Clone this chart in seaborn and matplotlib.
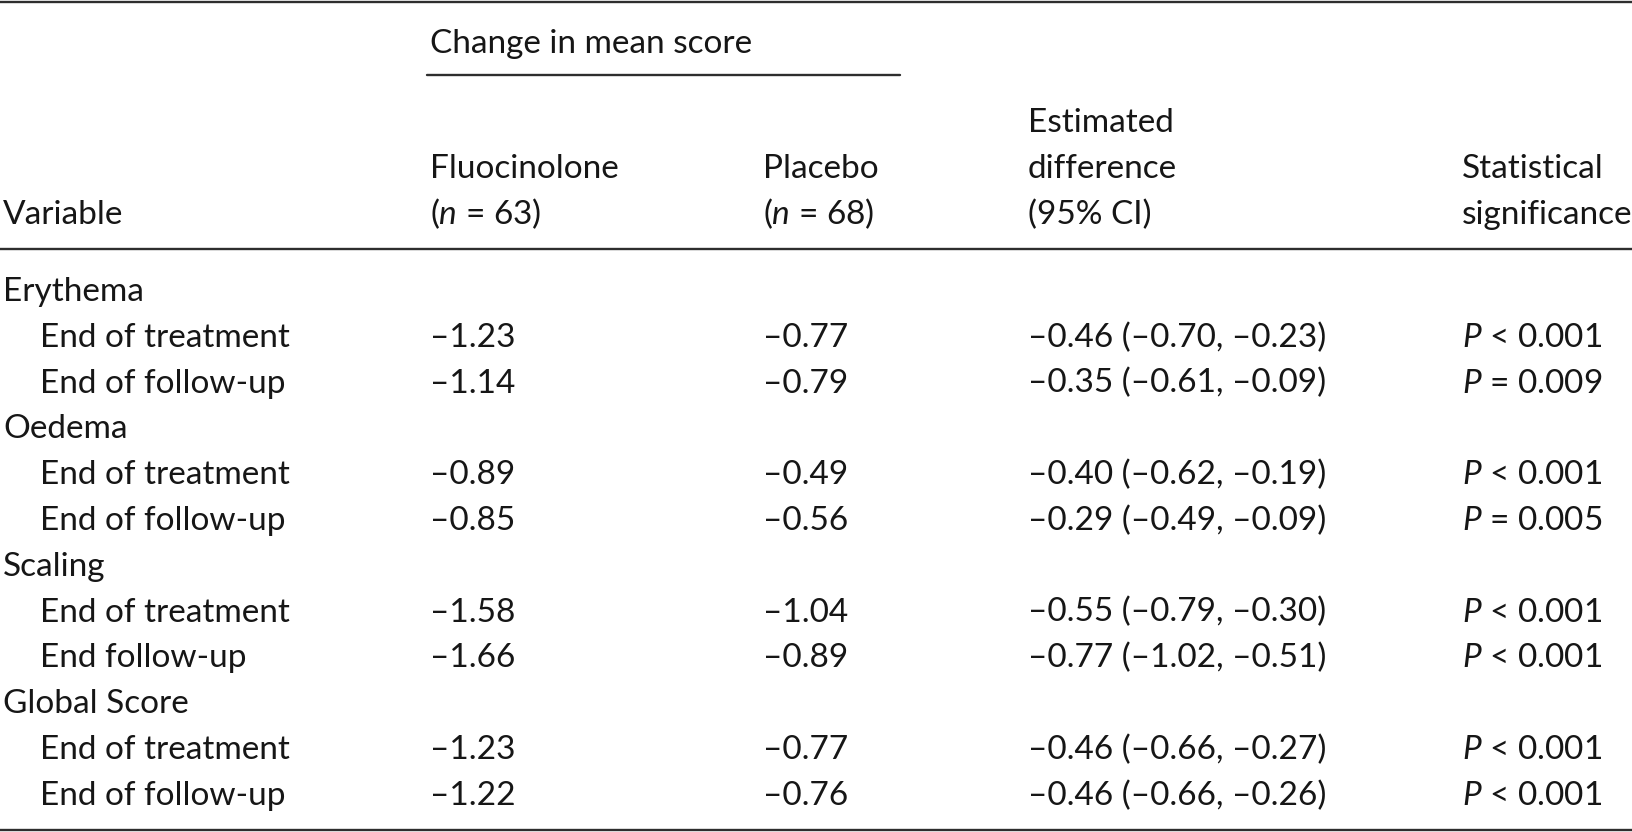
import matplotlib.pyplot as plt
import seaborn as sns

# table contents
groups = ['Erythema', 'Oedema', 'Scaling', 'Global Score']
timepoints = [['End of treatment', 'End of follow-up'],
              ['End of treatment', 'End of follow-up'],
              ['End of treatment', 'End follow-up'],
              ['End of treatment', 'End of follow-up']]
fluocinolone = [-1.23, -1.14, -0.89, -0.85, -1.58, -1.66, -1.23, -1.22]
placebo = [-0.77, -0.79, -0.49, -0.56, -1.04, -0.89, -0.77, -0.76]
est_diff = [-0.46, -0.35, -0.40, -0.29, -0.55, -0.77, -0.46, -0.46]
ci_low = [-0.70, -0.61, -0.62, -0.49, -0.79, -1.02, -0.66, -0.66]
ci_high = [-0.23, -0.09, -0.19, -0.09, -0.30, -0.51, -0.27, -0.26]
p_sign = ['<', '=', '<', '=', '<', '<', '<', '<']
p_value = ['0.001', '0.009', '0.001', '0.005', '0.001', '0.001', '0.001', '0.001']

sns.set_theme(style='white')
plt.rcParams['font.family'] = ['Lato', 'DejaVu Sans']
plt.rcParams['mathtext.fontset'] = 'custom'
plt.rcParams['mathtext.rm'] = 'Lato'
plt.rcParams['mathtext.it'] = 'Lato:italic'

W, H = 1632, 832
fig = plt.figure(figsize=(W / 100, H / 100), dpi=100)
ax = fig.add_axes([0, 0, 1, 1])
ax.set_xlim(0, W)
ax.set_ylim(H, 0)
ax.axis('off')

fs = 24
col = '#161616'
line_col = '#2e2e2e'
x_var, x_ind, x_fl, x_pl, x_est, x_sig = 3, 40, 430, 763, 1028, 1462


def neg(v):
    return '\u2013' + f'{abs(v):.2f}'


def put(x, y, s):
    ax.text(x, y, s, fontsize=fs, color=col, va='baseline', ha='left')


# rules
ax.plot([0, W], [2, 2], color=line_col, lw=1.7)
ax.plot([427, 900], [75, 75], color=line_col, lw=1.7)
ax.plot([0, W], [249, 249], color=line_col, lw=1.7)
ax.plot([0, W], [830, 830], color=line_col, lw=1.7)

# header
put(x_fl, 53, 'Change in mean score')
put(x_est, 132, 'Estimated')
put(x_fl, 178, 'Fluocinolone')
put(x_pl, 178, 'Placebo')
put(x_est, 178, 'difference')
put(x_sig, 178, 'Statistical')
put(x_var, 224, 'Variable')
put(x_fl, 224, '($n$ = 63)')
put(x_pl, 224, '($n$ = 68)')
put(x_est, 224, '(95% CI)')
put(x_sig, 224, 'significance')

# body
y0, dy, base = 290, 45.8, 11
row = 0
k = 0
for g, tps in zip(groups, timepoints):
    put(x_var, y0 + row * dy + base, g)
    row += 1
    for tp in tps:
        y = y0 + row * dy + base
        put(x_ind, y, tp)
        put(x_fl, y, neg(fluocinolone[k]))
        put(x_pl, y, neg(placebo[k]))
        put(x_est, y, f'{neg(est_diff[k])} ({neg(ci_low[k])}, {neg(ci_high[k])})')
        put(x_sig, y, f'$P$ {p_sign[k]} {p_value[k]}')
        row += 1
        k += 1

fig.savefig('out.png', dpi=100)
